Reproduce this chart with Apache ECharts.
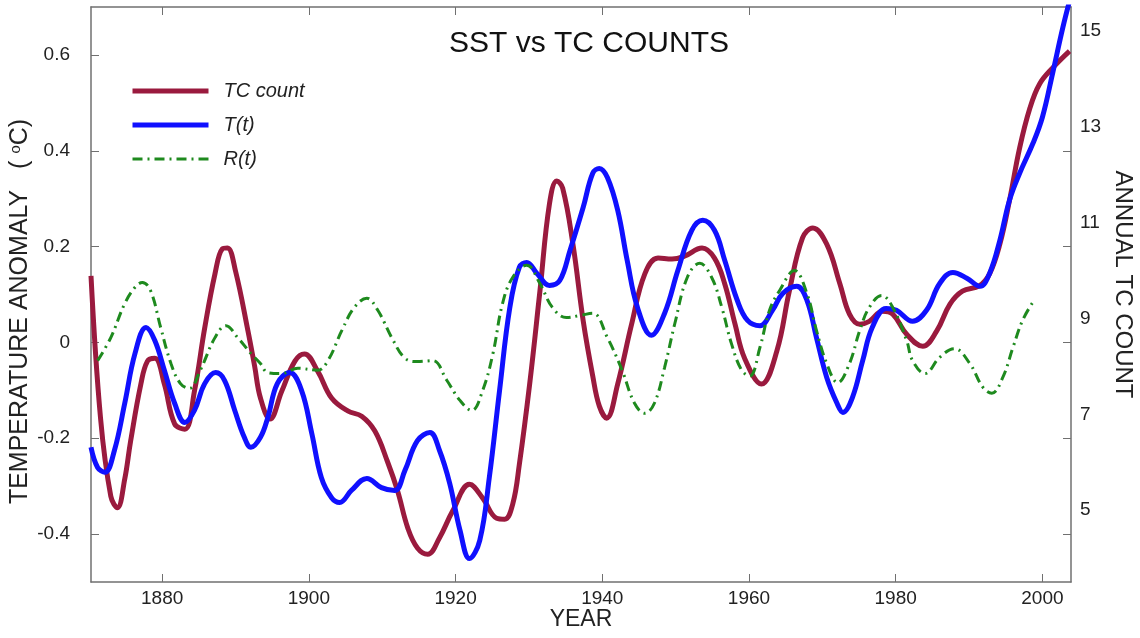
<!DOCTYPE html>
<html>
<head>
<meta charset="utf-8">
<title>SST vs TC COUNTS</title>
<script src="https://cdn.jsdelivr.net/npm/echarts@6/dist/echarts.min.js"></script>
<style>
  html, body { margin: 0; padding: 0; background: #fff; }
  #chart { width: 1140px; height: 638px; }
</style>
</head>
<body>
<div id="chart"></div>
<script>
// values
const tcYears = [1870.3, 1871.6, 1873.0, 1873.9, 1874.9, 1875.7, 1877.1, 1878.0, 1879.0, 1880.3,
  1881.7, 1883.1, 1884.4, 1885.8, 1887.2, 1888.2, 1888.9, 1890.0, 1891.7, 1892.6,
  1893.4, 1894.7, 1896.3, 1898.1, 1899.4, 1901.2, 1903.1, 1905.3, 1907.2, 1909.0,
  1910.7, 1912.1, 1913.5, 1914.8, 1916.2, 1917.8, 1919.6, 1921.9, 1923.7, 1925.6,
  1926.7, 1927.8, 1928.7, 1930.1, 1931.5, 1932.8, 1933.8, 1934.6, 1936.0, 1937.4,
  1938.7, 1939.6, 1940.6, 1942.1, 1944.0, 1945.8, 1947.6, 1949.5, 1951.2, 1953.6,
  1955.3, 1956.7, 1958.1, 1959.4, 1961.7, 1963.8, 1965.5, 1967.3, 1968.7, 1970.6,
  1972.4, 1973.7, 1975.1, 1976.4, 1978.2, 1979.6, 1981.5, 1983.7, 1985.6, 1987.4,
  1989.1, 1991.4, 1992.8, 1994.2, 1995.5, 1996.9, 1998.3, 1999.6, 2001.4, 2003.7];
const tcCounts = [9.89, 6.92, 5.29, 5.05, 5.65, 6.44, 7.63, 8.11, 8.17, 7.63,
  6.80, 6.69, 7.48, 8.80, 9.93, 10.45, 10.47, 9.99, 8.74, 8.01,
  7.34, 6.90, 7.48, 8.11, 8.26, 7.90, 7.34, 7.07, 6.96, 6.65,
  6.02, 5.40, 4.62, 4.21, 4.08, 4.42, 4.98, 5.54, 5.25, 4.83,
  4.81, 5.13, 5.96, 7.63, 9.57, 11.39, 11.87, 11.72, 10.55, 8.95,
  7.80, 7.17, 6.92, 7.63, 8.88, 9.93, 10.26, 10.24, 10.30, 10.47,
  10.26, 9.72, 8.88, 8.17, 7.63, 8.32, 9.57, 10.68, 10.89, 10.55,
  9.72, 9.09, 8.88, 8.94, 9.15, 9.09, 8.67, 8.42, 8.74, 9.30,
  9.57, 9.68, 9.93, 10.55, 11.45, 12.56, 13.39, 13.89, 14.23, 14.58];

const tYears = [1870.3, 1871.2, 1872.2, 1873.5, 1874.9, 1876.3, 1877.8, 1879.0, 1880.3, 1881.7,
  1883.1, 1884.4, 1885.8, 1887.3, 1888.5, 1889.9, 1891.2, 1892.1, 1893.4, 1894.4,
  1895.7, 1897.4, 1899.0, 1900.4, 1901.7, 1903.1, 1904.2, 1905.8, 1907.9, 1909.9,
  1911.7, 1913.1, 1914.8, 1916.5, 1917.8, 1919.2, 1920.6, 1921.9, 1923.3, 1924.6,
  1926.0, 1927.4, 1928.7, 1929.7, 1931.1, 1932.8, 1934.2, 1935.6, 1937.4, 1938.7,
  1939.6, 1940.7, 1942.1, 1943.4, 1944.8, 1946.7, 1948.5, 1950.3, 1952.2, 1953.7,
  1955.3, 1956.7, 1958.4, 1959.8, 1961.5, 1963.2, 1964.6, 1966.5, 1967.9, 1969.2,
  1970.6, 1972.0, 1972.8, 1974.1, 1975.5, 1976.8, 1978.7, 1980.1, 1982.3, 1984.2,
  1986.0, 1987.8, 1989.7, 1991.5, 1992.8, 1994.2, 1995.5, 1996.9, 1998.7, 2000.0,
  2001.4, 2002.8, 2003.9];
const tValues = [-0.219, -0.261, -0.271, -0.225, -0.127, -0.023, 0.031, 0.004, -0.058, -0.127,
  -0.167, -0.142, -0.086, -0.063, -0.079, -0.142, -0.198, -0.219, -0.198, -0.157,
  -0.086, -0.063, -0.100, -0.190, -0.282, -0.324, -0.334, -0.309, -0.284, -0.303,
  -0.309, -0.267, -0.205, -0.188, -0.225, -0.294, -0.392, -0.451, -0.413, -0.282,
  -0.100, 0.073, 0.157, 0.167, 0.144, 0.119, 0.129, 0.192, 0.282, 0.353,
  0.363, 0.344, 0.276, 0.171, 0.073, 0.015, 0.061, 0.150, 0.234, 0.255,
  0.234, 0.171, 0.088, 0.046, 0.035, 0.067, 0.102, 0.117, 0.088, 0.010,
  -0.073, -0.127, -0.146, -0.115, -0.038, 0.031, 0.071, 0.067, 0.044, 0.067,
  0.123, 0.146, 0.134, 0.117, 0.144, 0.213, 0.296, 0.353, 0.415, 0.470,
  0.562, 0.658, 0.724];

const rYears = [1871.2, 1873.0, 1874.9, 1876.3, 1877.3, 1878.4, 1879.8, 1881.2, 1882.5, 1883.7,
  1885.2, 1887.2, 1888.7, 1890.3, 1892.1, 1893.4, 1894.4, 1896.3, 1898.5, 1901.2,
  1902.6, 1904.5, 1906.2, 1907.9, 1909.4, 1911.3, 1913.1, 1914.8, 1916.9, 1918.8,
  1920.6, 1922.2, 1923.7, 1925.1, 1926.4, 1927.8, 1929.7, 1931.5, 1933.2, 1935.1,
  1936.9, 1938.7, 1940.7, 1942.7, 1944.4, 1945.8, 1947.1, 1948.5, 1949.9, 1951.6,
  1953.3, 1954.9, 1956.3, 1957.6, 1959.0, 1960.1, 1961.5, 1962.8, 1964.2, 1966.2,
  1967.9, 1969.2, 1970.6, 1972.1, 1973.7, 1975.1, 1976.4, 1978.1, 1979.6, 1981.5,
  1982.3, 1984.0, 1986.0, 1988.0, 1990.1, 1991.9, 1993.1, 1994.6, 1996.0, 1997.3,
  1998.7];
const rValues = [-0.038, 0.010, 0.081, 0.115, 0.125, 0.109, 0.031, -0.044, -0.086, -0.096,
  -0.058, 0.010, 0.035, 0.010, -0.023, -0.044, -0.063, -0.065, -0.054, -0.058,
  -0.038, 0.025, 0.073, 0.092, 0.067, 0.010, -0.033, -0.040, -0.038, -0.079,
  -0.121, -0.142, -0.100, -0.023, 0.081, 0.136, 0.161, 0.123, 0.073, 0.052,
  0.056, 0.061, 0.010, -0.058, -0.127, -0.148, -0.127, -0.052, 0.040, 0.136,
  0.165, 0.136, 0.073, -0.002, -0.058, -0.070, -0.010, 0.067, 0.109, 0.150,
  0.102, 0.025, -0.044, -0.084, -0.044, 0.025, 0.073, 0.098, 0.073, 0.004,
  -0.038, -0.065, -0.031, -0.013, -0.044, -0.094, -0.106, -0.073, -0.010, 0.046,
  0.084];

const yearTicks = [1880, 1900, 1920, 1940, 1960, 1980, 2000];
const tempTicks = [-0.4, -0.2, 0, 0.2, 0.4, 0.6];
const countLabels = [5, 7, 9, 11, 13, 15];
const countTicks = [4.5, 6.5, 8.5, 10.5, 12.5];

const pairs = (xs, ys) => xs.map((x, i) => [x, ys[i]]);

const FONT = "Liberation Sans";
const axisColor = "#707070";
const textColor = "#222";
const red = "#9a1a3e";
const blue = "#1010ff";
const green = "#1e8a1e";
const dashDot = [10, 5, 2, 5];

const chart = echarts.init(document.getElementById("chart"), null, { renderer: "canvas" });

const option = {
  backgroundColor: "#fff",
  animation: false,
  textStyle: { fontFamily: FONT },
  title: {
    text: "SST vs TC COUNTS",
    left: 584,
    textAlign: "center",
    top: 24,
    textStyle: { fontFamily: FONT, fontSize: 30, fontWeight: "normal", color: "#111" },
  },
  legend: {
    orient: "vertical",
    left: 125,
    top: 76,
    itemWidth: 76,
    itemHeight: 14,
    itemGap: 14,
    itemStyle: { opacity: 0 },
    textStyle: { fontFamily: FONT, fontSize: 20, fontStyle: "italic", color: textColor, padding: [0, 0, 0, 10] },
    data: [
      { name: "TC count", lineStyle: { width: 5, color: red } },
      { name: "T(t)", lineStyle: { width: 5, color: blue } },
      { name: "R(t)", lineStyle: { width: 3, color: green, type: dashDot } },
    ],
  },
  grid: { left: 91, right: 69, top: 7, bottom: 56, containLabel: false, outerBoundsMode: "none" },
  xAxis: [
    {
      type: "value",
      min: 1870.3,
      max: 2003.9,
      position: "bottom",
      name: "YEAR",
      nameLocation: "middle",
      nameGap: 26,
      nameMoveOverlap: false,
      nameTextStyle: { fontFamily: FONT, fontSize: 23, color: textColor, verticalAlign: "top" },
      axisLine: { show: true, onZero: false, lineStyle: { color: axisColor, width: 1.5 } },
      axisTick: { show: true, inside: true, length: 8, customValues: yearTicks, lineStyle: { color: axisColor } },
      axisLabel: {
        customValues: yearTicks, fontFamily: FONT, fontSize: 19, color: textColor, margin: 7,
        formatter: (v) => String(v),
      },
      splitLine: { show: false },
    },
    {
      type: "value",
      min: 1870.3,
      max: 2003.9,
      position: "top",
      axisLine: { show: true, onZero: false, lineStyle: { color: axisColor, width: 1.5 } },
      axisTick: { show: true, inside: true, length: 8, customValues: yearTicks, lineStyle: { color: axisColor } },
      axisLabel: { show: false },
      splitLine: { show: false },
    },
  ],
  yAxis: [
    {
      type: "value",
      min: -0.5,
      max: 0.7,
      position: "left",
      name: "TEMPERATURE ANOMALY   ( {sup|o}C)",
      nameLocation: "middle",
      nameRotate: 90,
      nameGap: 58,
      nameMoveOverlap: false,
      nameTextStyle: {
        fontFamily: FONT, fontSize: 25, color: textColor, padding: [0, 34, 0, 0],
        rich: { sup: { fontFamily: FONT, fontSize: 15, color: textColor, verticalAlign: "top", padding: [0, 0, 10, 0] } },
      },
      axisLine: { show: true, onZero: false, lineStyle: { color: axisColor, width: 1.5 } },
      axisTick: { show: true, inside: true, length: 8, customValues: tempTicks, lineStyle: { color: axisColor } },
      axisLabel: {
        customValues: tempTicks,
        fontFamily: FONT, fontSize: 19, color: textColor, margin: 21,
        formatter: (v) => (Math.abs(v) < 1e-9 ? "0" : v.toFixed(1)),
      },
      splitLine: { show: false },
    },
    {
      type: "value",
      min: 3.5,
      max: 15.5,
      position: "right",
      name: "ANNUAL TC COUNT",
      nameLocation: "middle",
      nameRotate: -90,
      nameGap: 40,
      nameMoveOverlap: false,
      nameTextStyle: { fontFamily: FONT, fontSize: 24, color: textColor, padding: [0, 20, 0, 0] },
      axisLine: { show: true, onZero: false, lineStyle: { color: axisColor, width: 1.5 } },
      axisTick: { show: true, inside: true, length: 8, customValues: countTicks, lineStyle: { color: axisColor } },
      axisLabel: { customValues: countLabels, fontFamily: FONT, fontSize: 19, color: textColor, margin: 9 },
      splitLine: { show: false },
    },
  ],
  series: [
    {
      name: "TC count",
      type: "line",
      yAxisIndex: 1,
      data: pairs(tcYears, tcCounts),
      smooth: 0.4,
      symbol: "none",
      lineStyle: { color: red, width: 5 },
      itemStyle: { color: red },
    },
    {
      name: "T(t)",
      type: "line",
      yAxisIndex: 0,
      data: pairs(tYears, tValues),
      smooth: 0.4,
      symbol: "none",
      lineStyle: { color: blue, width: 5 },
      itemStyle: { color: blue },
    },
    {
      name: "R(t)",
      type: "line",
      yAxisIndex: 0,
      data: pairs(rYears, rValues),
      smooth: 0.4,
      symbol: "none",
      lineStyle: { color: green, width: 3, type: dashDot },
      itemStyle: { color: green },
    },
  ],
};

chart.setOption(option);
</script>
</body>
</html>
